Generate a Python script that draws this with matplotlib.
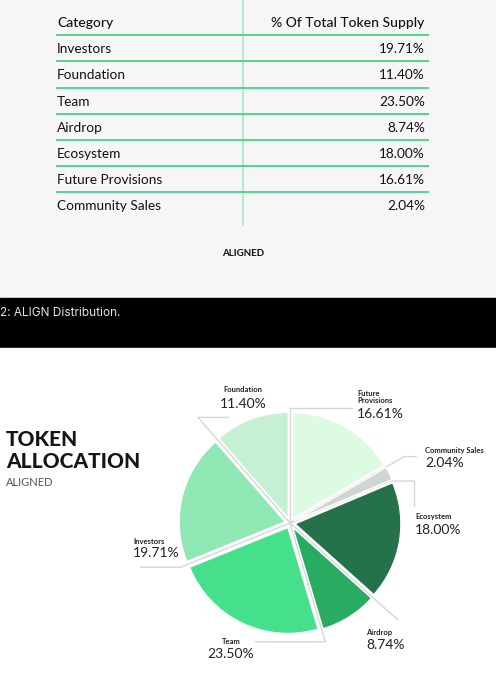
import matplotlib
matplotlib.use('Agg')
import matplotlib.pyplot as plt
import numpy as np

plt.rcParams['font.family'] = ['Lato', 'DejaVu Sans']

# table data (top screenshot)
categories = ["Investors", "Foundation", "Team", "Airdrop", "Ecosystem",
              "Future Provisions", "Community Sales"]
shares     = [19.71, 11.40, 23.50, 8.74, 18.00, 16.61, 2.04]

# pie order, clockwise from the top
pie_order  = ["Future Provisions", "Community Sales", "Ecosystem", "Airdrop",
              "Team", "Investors", "Foundation"]
pie_names  = ["Future\nProvisions", "Community Sales", "Ecosystem", "Airdrop",
              "Team", "Investors", "Foundation"]
pie_colors = ["#dcfbe1", "#cdd6d1", "#25714a", "#2aab62", "#46e08c",
              "#8fe8b3", "#c5f0d4"]

share_of = dict(zip(categories, shares))
pie_vals = [share_of[c] for c in pie_order]

fig = plt.figure(figsize=(4.96, 6.8), dpi=100)
bg = fig.add_axes([0, 0, 1, 1])
bg.set_xlim(0, 496)
bg.set_ylim(680, 0)
bg.axis('off')

# backgrounds
bg.add_patch(plt.Rectangle((0, 0), 496, 298, color="#f6f6f6", zorder=0))
bg.add_patch(plt.Rectangle((0, 298), 496, 50, color="black", zorder=0))
bg.add_patch(plt.Rectangle((0, 348), 496, 332, color="white", zorder=0))

# ---- table ----
green = "#4fd68c"
row_step = 26.2
head_y = 23
bg.text(57, head_y, "Category", fontsize=10, color="#111111", va='center', weight='medium')
bg.text(424, head_y, "% Of Total Token Supply", fontsize=10, color="#111111",
        va='center', ha='right', weight='medium')
for i, (cat, val) in enumerate(zip(categories, shares)):
    y = head_y + (i + 1) * row_step
    bg.plot([57, 428], [y - 14, y - 14], color=green, lw=1.4, zorder=2)
    bg.text(57, y, cat, fontsize=9.8, color="#111111", va='center')
    bg.text(425, y, f"{val:.2f}%", fontsize=9.8, color="#111111", va='center', ha='right')
bg.plot([243, 243], [0, 225], color="#a6e9c3", lw=1.2, zorder=1)
bg.text(243, 254, "ALIGNED", fontsize=7, weight='bold', color="#111111",
        ha='center', va='center')

# caption band
bg.text(0, 313, "2: ALIGN Distribution.", fontsize=8.5, color="#e6e6e6", va='center',
        family=['Inter', 'DejaVu Sans'])

# title
bg.text(6, 440, "TOKEN", fontsize=15, weight='black', color="#151515", va='center')
bg.text(6, 462, "ALLOCATION", fontsize=15, weight='black', color="#151515", va='center')
bg.text(6, 483, "ALIGNED", fontsize=8, color="#555555", va='center')

# ---- pie ----
cx, cy, half = 290, 523, 150
ax = fig.add_axes([(cx - half) / 496, (680 - cy - half) / 680, 2 * half / 496, 2 * half / 680])
ax.pie(pie_vals, colors=pie_colors, startangle=90, counterclock=False,
       radius=1.06, explode=[0.05] * len(pie_vals),
       wedgeprops=dict(linewidth=1, edgecolor='white'))
ax.set_xlim(-1.5, 1.5)
ax.set_ylim(-1.5, 1.5)
ax.axis('off')

# boundary angles between wedges
cum = np.cumsum([0] + pie_vals)
angles = 90 - 360 * cum / 100.0

# leader lines: (boundary index, elbow radius, dx, dy)
leaders = [(0, 1.15, 0.62, 0), (1, 1.32, 0.12, 0), (2, 1.08, 0.25, -0.25),
           (3, 1.45, 0, 0), (4, 1.24, -0.70, 0), (5, 1.18, -0.51, 0),
           (6, 1.40, 0.30, 0)]
for k, r, dx, dy in leaders:
    a = np.deg2rad(angles[k])
    ex, ey = r * np.cos(a), r * np.sin(a)
    xs = [0, ex, ex + dx]
    ys = [0, ey, ey]
    if dy:
        xs.append(ex + dx)
        ys.append(ey + dy)
    ax.plot(xs, ys, color="#d6d6d6", lw=1, zorder=0)

# labels (pixel positions), drawn on the pie axes so they sit on top
label_pos = {
    "Future Provisions": (357, 397, 414, 'left'),
    "Community Sales":   (425, 451, 463, 'left'),
    "Ecosystem":         (415, 516, 530, 'left'),
    "Airdrop":           (366, 632, 645, 'left'),
    "Team":              (231, 641, 654, 'center'),
    "Investors":         (133, 541, 553, 'left'),
    "Foundation":        (243, 390, 404, 'center'),
}
for cat, name, val in zip(pie_order, pie_names, pie_vals):
    x, ny, py, ha = label_pos[cat]
    ax.text(x, ny, name, fontsize=5.5, weight='bold', color="#222222",
            ha=ha, va='center', linespacing=0.9, zorder=5,
            transform=bg.transData, clip_on=False)
    ax.text(x, py, f"{val:.2f}%", fontsize=10, color="#222222",
            ha=ha, va='center', zorder=5, transform=bg.transData, clip_on=False)

fig.savefig("out.png", dpi=100)
